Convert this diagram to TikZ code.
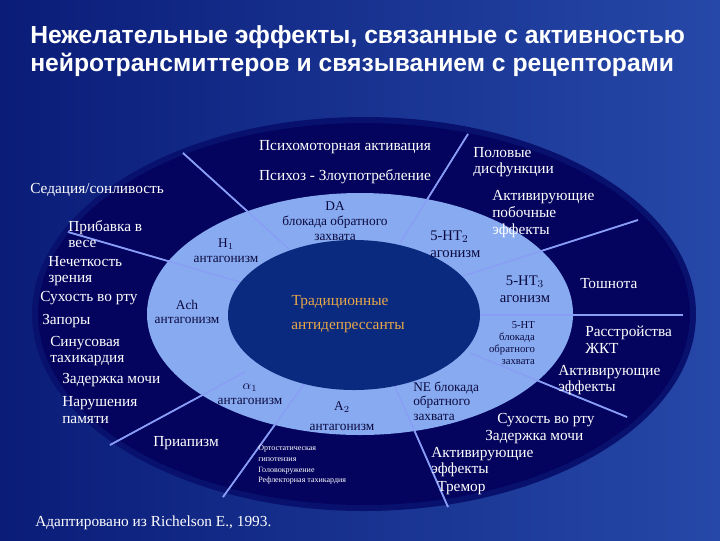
\documentclass[tikz,border=0pt]{standalone}
\usepackage{fontspec}
\setmainfont{Liberation Serif}
\newfontfamily\titlefont{Liberation Sans}
\definecolor{bgA}{HTML}{0A1C78}
\definecolor{bgB}{HTML}{2648A8}
\definecolor{outerc}{HTML}{04045E}
\definecolor{ringc}{HTML}{88AAF0}
\definecolor{innerc}{HTML}{0A2A80}
\definecolor{linec}{HTML}{8898F8}
\definecolor{ringtxt}{HTML}{0A0A40}
\definecolor{orangec}{HTML}{E8A848}
\tikzset{
 outtxt/.style={text=white,font=\fontsize{11.5}{12.5}\selectfont,align=left,inner sep=0pt},
 ringlbl/.style={text=ringtxt,font=\fontsize{10}{11}\selectfont,align=center,inner sep=0pt},
 smalltxt/.style={text=white,font=\fontsize{6}{8}\selectfont,align=left,inner sep=0pt},
 spoke/.style={draw=linec,line width=1.3pt},
}
\begin{document}
\begin{tikzpicture}[x=0.75pt,y=-0.75pt]
\shade[left color=bgA,right color=bgB] (0,0) rectangle (720,540);
\useasboundingbox (0,0) rectangle (720,540);
\fill[color=bgA!60!outerc] (364,314) ellipse [x radius=332,y radius=197];
\fill[outerc] (364,314) ellipse [x radius=326,y radius=191];
% spokes outer parts
\coordinate (s1a) at (183,153); \coordinate (s1b) at (290,250);
\coordinate (s2a) at (68,232); \coordinate (s2b) at (240,282);
\coordinate (s3a) at (110,445); \coordinate (s3b) at (245,372);
\coordinate (s4a) at (223,497); \coordinate (s4b) at (307,380);
\coordinate (s5a) at (448,507); \coordinate (s5b) at (393,382);
\coordinate (s6a) at (468,134); \coordinate (s6b) at (400,243);
\coordinate (s7a) at (638,220); \coordinate (s7b) at (460,277);
\coordinate (s8a) at (683,315); \coordinate (s8b) at (478,315);
\coordinate (s9a) at (627,417); \coordinate (s9b) at (470,353);
\foreach \i in {1,...,9} \draw[spoke] (s\i a) -- (s\i b);
\fill[ringc] (360,314) ellipse [x radius=213,y radius=121];
\foreach \i in {1,...,9} \draw[linec!70!ringc,line width=1pt] (s\i a) -- (s\i b);
\fill[innerc] (354,315) ellipse [x radius=126,y radius=75];
% title
\node[anchor=west,text=white,font=\titlefont\bfseries\fontsize{18.5}{20.5}\selectfont,align=left,inner sep=0pt] (title) at (30,51) {Нежелательные эффекты, связанные с активностью\\нейротрансмиттеров и связыванием с рецепторами};
% outer labels
\node[outtxt,anchor=center] (psm) at (345,147) {Психомоторная активация};
\node[outtxt,anchor=center] (psz) at (345,177) {Психоз - Злоупотребление};
\node[outtxt,anchor=west] (pol) at (473,162) {Половые\\дисфункции};
\node[outtxt,anchor=west] (sed) at (30,190) {Седация/сонливость};
\node[outtxt,anchor=west] (prib) at (68,234) {Прибавка в\\весе};
\node[outtxt,anchor=west] (nech) at (48,271) {Нечеткость\\зрения};
\node[outtxt,anchor=west] (such) at (40,298) {Сухость во рту};
\node[outtxt,anchor=west] (zap) at (42,321) {Запоры};
\node[outtxt,anchor=west] (sin) at (50,351) {Синусовая\\тахикардия};
\node[outtxt,anchor=west] (zad) at (62,380) {Задержка мочи};
\node[outtxt,anchor=west] (nar) at (62,410) {Нарушения\\памяти};
\node[outtxt,anchor=west] (pria) at (153,443) {Приапизм};
\node[smalltxt,anchor=west] (orto) at (258,465) {Ортостатическая\\гипотензия\\Головокружение\\Рефлекторная тахикардия};
\node[outtxt,anchor=west] (adapt) at (35,523) {Адаптировано из Richelson E., 1993.};
\node[outtxt,anchor=west] (act1) at (492,214) {Активирующие\\побочные\\эффекты};
\node[outtxt,anchor=west] (tosh) at (580,284) {Тошнота};
\node[outtxt,anchor=west] (gkt) at (585,340) {Расстройства\\ЖКТ};
\node[outtxt,anchor=west] (act2) at (558,380) {Активирующие\\эффекты};
\node[outtxt,anchor=west] (such2) at (497,420) {Сухость во рту};
\node[outtxt,anchor=west] (zad2) at (485,437) {Задержка мочи};
\node[outtxt,anchor=west] (act3) at (431,462) {Активирующие\\эффекты};
\node[outtxt,anchor=west] (trem) at (437,488) {Тремор};
% ring labels
\node[ringlbl] (da) at (335,221) {DA\\блокада обратного\\захвата};
\node[ringlbl] (h1) at (226,251) {H$_1$\\антагонизм};
\node[ringlbl] (ach) at (187,312) {Ach\\антагонизм};
\node[ringlbl] (a1) at (250,394) {$\alpha_1$\\антагонизм};
\node[ringlbl] (a2) at (342,416) {A$_2$\\[4pt]антагонизм};
\node[ringlbl,anchor=west,align=left] (ne) at (413,401) {NE блокада\\обратного\\захвата};
\node[ringlbl,anchor=west,align=left,font=\fontsize{11}{13}\selectfont] (ht2) at (430,244) {5-HT$_2$\\агонизм};
\node[ringlbl,font=\fontsize{11}{13}\selectfont] (ht3) at (525,289) {5-HT$_3$\\агонизм};
\node[ringlbl,font=\fontsize{8}{9}\selectfont,align=right] (ht) at (512,343) {5-HT\\блокада\\обратного\\захвата};
% inner
\node[text=orangec,font=\fontsize{11.5}{12}\selectfont,inner sep=0pt] (trad) at (340,302) {Традиционные};
\node[text=orangec,font=\fontsize{11.5}{12}\selectfont,inner sep=0pt] (antid) at (348,328) {антидепрессанты};
\end{tikzpicture}
\end{document}
